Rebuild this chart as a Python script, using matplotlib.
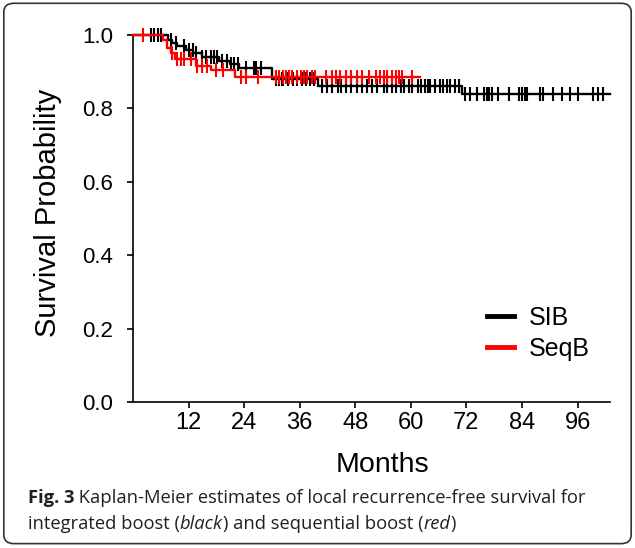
import numpy as np
import matplotlib
matplotlib.use("Agg")
import matplotlib.pyplot as plt
from matplotlib.patches import FancyBboxPatch

# ---- data ----
sib_times = [0, 7.5, 8.5, 9.5, 11.5, 13.0, 15.0, 18.5, 21.0, 23.0, 30.0, 40.0, 71.0]
sib_surv = [1.0, 0.986, 0.977, 0.970, 0.959, 0.950, 0.941, 0.930, 0.920, 0.910, 0.880, 0.862, 0.840]
sib_end = 103.0
sib_censor = [3.9, 4.6, 5.3, 6.0, 8.2, 9.3, 11.0, 12.1, 12.9, 13.6, 15.0, 15.7, 16.8, 17.5, 18.2,
              19.3, 20.4, 21.1, 21.8, 22.6, 24.4, 26.1, 26.5, 27.6, 30.8, 31.5, 32.2, 32.5, 33.5,
              34.5, 35.5, 36.5, 37.3, 38.2, 39.0, 40.9, 42.0, 43.0, 44.2, 45.0, 46.0, 47.0, 48.4,
              49.5, 50.6, 51.6, 52.7, 54.2, 54.9, 56.0, 56.7, 57.8, 58.5, 59.6, 60.3, 61.6, 62.3,
              63.0, 63.6, 64.2, 65.3, 66.4, 67.0, 67.7, 68.4, 69.6, 70.3, 71.8, 72.8, 74.3, 75.7,
              76.4, 76.8, 77.5, 78.9, 81.1, 83.3, 84.0, 84.7, 85.0, 87.9, 88.6, 90.8, 92.6, 94.4,
              96.2, 99.4, 100.5, 101.6]

seqb_times = [0, 6.5, 7.3, 8.2, 9.0, 13.6, 16.8, 22.0]
seqb_surv = [1.0, 0.986, 0.964, 0.950, 0.935, 0.915, 0.905, 0.885]
seqb_end = 62.0
seqb_censor = [2.1, 8.5, 9.5, 10.3, 11.0, 12.5, 13.9, 15.0, 16.0, 18.0, 19.5, 23.3, 24.3, 26.9,
               30.8, 31.5, 32.3, 33.0, 33.7, 34.4, 35.5, 36.2, 36.9, 37.6, 38.7, 39.4, 41.6,
               43.0, 43.8, 44.8, 45.9, 47.0, 48.4, 49.5, 50.9, 52.4, 53.4, 54.2, 54.9, 56.0,
               56.7, 57.4, 58.1, 60.3]

xticks = [12, 24, 36, 48, 60, 72, 84, 96]
yticks = [0.0, 0.2, 0.4, 0.6, 0.8, 1.0]

LBL = ["Liberation Sans", "DejaVu Sans"]
CAP = ["Open Sans", "DejaVu Sans"]

fig = plt.figure(figsize=(6.35, 5.48), dpi=100)
ax = fig.add_axes([0.2094, 0.2664, 0.7512, 0.6697])


def km(ax, times, surv, end, censor, color):
    t = np.append(times, end)
    s = np.append(surv, surv[-1])
    ax.step(t, s, where="post", color=color, lw=1.7, clip_on=False, zorder=3)
    idx = np.searchsorted(times, censor, side="right") - 1
    cy = np.asarray(surv)[idx]
    ax.plot(censor, cy, ls="none", marker="|", ms=9.5, mew=1.5, color=color,
            clip_on=False, zorder=3)


km(ax, sib_times, sib_surv, sib_end, sib_censor, "black")
km(ax, seqb_times, seqb_surv, seqb_end, seqb_censor, "#ff0000")

ax.plot([], [], color="black", lw=3.5, label="SIB")
ax.plot([], [], color="#ff0000", lw=3.5, label="SeqB")

ax.set_xlim(0, 103)
ax.set_ylim(0, 1.0)
ax.set_xticks(xticks)
ax.set_yticks(yticks)
ax.set_yticklabels([f"{v:.1f}" for v in yticks])
for sp in ["top", "right"]:
    ax.spines[sp].set_visible(False)
for sp in ["left", "bottom"]:
    ax.spines[sp].set_linewidth(1.2)
ax.tick_params(direction="out", length=4.5, width=1.2)
ax.tick_params(axis="x", labelsize=17, pad=3)
ax.tick_params(axis="y", labelsize=16, pad=10)
for lab in ax.get_xticklabels() + ax.get_yticklabels():
    lab.set_family(LBL)

ax.set_xlabel("Months", fontsize=20.5, family=LBL, labelpad=15)
ax.xaxis.set_label_coords(0.524, -0.135)
ax.set_ylabel("Survival Probability", fontsize=21, family=LBL, labelpad=14)
ax.yaxis.label.set_y(0.515)

leg = ax.legend(loc="lower left", bbox_to_anchor=(0.695, 0.05), frameon=False,
                prop={"family": LBL, "size": 18}, handlelength=1.08, handletextpad=0.6,
                labelspacing=0.3)

# caption with mixed styles
r = fig.canvas.get_renderer()


def seq(parts, x, y):
    for txt, style, weight in parts:
        tt = fig.text(x, y, txt, fontsize=13.2, family=CAP, style=style, weight=weight,
                      va="baseline", color="#231f20")
        bb = tt.get_window_extent(renderer=r)
        x += bb.width / fig.bbox.width
    return x


seq([("Fig. 3", "normal", "bold"),
     (" Kaplan-Meier estimates of local recurrence-free survival for", "normal", "normal")],
    0.044, 0.083)
seq([("integrated boost (", "normal", "normal"), ("black", "italic", "normal"),
     (") and sequential boost (", "normal", "normal"), ("red", "italic", "normal"),
     (")", "normal", "normal")], 0.044, 0.035)

border = FancyBboxPatch((0.006, 0.008), 0.988, 0.986, boxstyle="round,pad=0,rounding_size=0.016",
                        transform=fig.transFigure, fill=False, ec="#333333", lw=1.2)
fig.patches.append(border)

fig.savefig("out.png", dpi=100)
